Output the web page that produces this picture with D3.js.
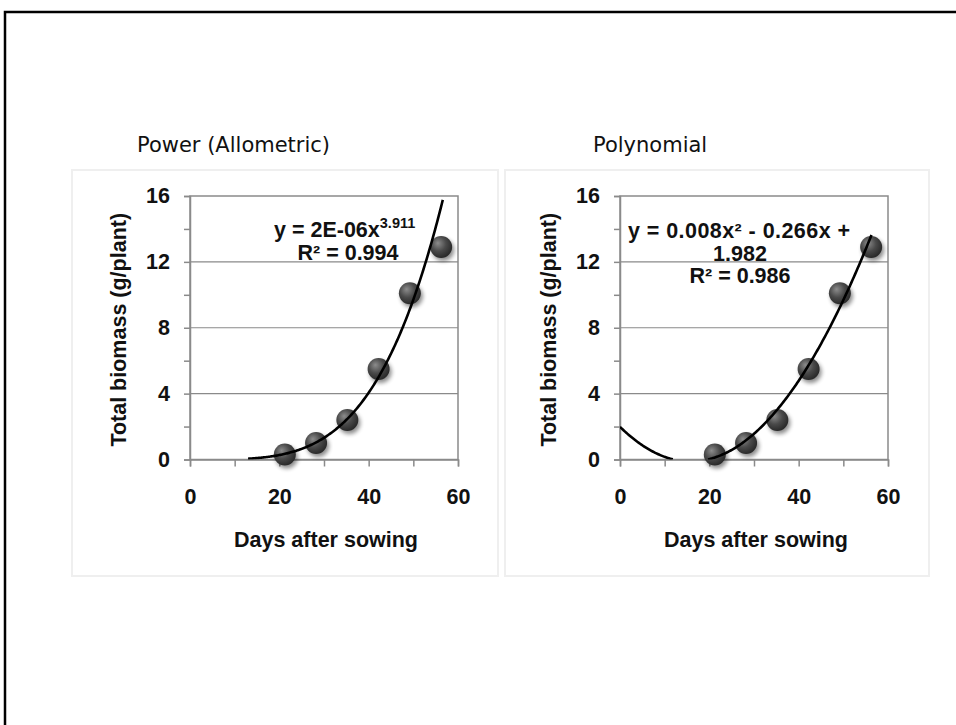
<!DOCTYPE html>
<html><head><meta charset="utf-8">
<script src="https://cdn.jsdelivr.net/npm/d3@7"></script>
<style>html,body{margin:0;padding:0;background:#fff;overflow:hidden}</style>
</head><body>
<script>
// ---- data ----
const days = [21, 28, 35, 42, 49, 56];
const biomass = [0.3, 1.0, 2.4, 5.5, 10.1, 12.9];
const xTickValues = [0, 10, 20, 30, 40, 50, 60];
const xTickLabels = [0, 20, 40, 60];
const yTickValues = [0, 2, 4, 6, 8, 10, 12, 14, 16];
const yTickLabels = [0, 4, 8, 12, 16];
const yGrid = [4, 8, 12];
const panelTitles = ["Power (Allometric)", "Polynomial"];
const xTitle = "Days after sowing";
const yTitle = "Total biomass (g/plant)";
const powerEq = ["y = 2E-06x", "3.911", "R² = 0.994"];
const polyEq = ["y = 0.008x² - 0.266x  +", "1.982", "R² = 0.986"];
// trendline parameters (displayed equations, unrounded leading coefficient)
const powerParams = [2.2e-6, 3.911];
const powerRange = [13, 56.6];
const polyParams = [0.0084, -0.266, 1.982];
const polyRange = [0, 56.3];

const W = 956, H = 725;
const svg = d3.select("body").append("svg").attr("width", W).attr("height", H);
const defs = svg.append("defs");
const grad = defs.append("radialGradient").attr("id", "ball").attr("cx", "40%").attr("cy", "38%").attr("r", "62%").attr("fx", "35%").attr("fy", "32%");
grad.append("stop").attr("offset", "0%").attr("stop-color", "#8c8c8c");
grad.append("stop").attr("offset", "55%").attr("stop-color", "#4a4a4a");
grad.append("stop").attr("offset", "100%").attr("stop-color", "#2a2a2a");
defs.append("filter").attr("id", "blur").attr("x", "-50%").attr("y", "-50%").attr("width", "200%").attr("height", "200%")
  .append("feGaussianBlur").attr("stdDeviation", 2.2);

// outer frame
svg.append("rect").attr("x", 5).attr("y", 12).attr("width", 1000).attr("height", 800)
  .attr("fill", "none").attr("stroke", "#000").attr("stroke-width", 2.5);

const yScale = d3.scaleLinear().domain([0, 16]).range([459.5, 196]);

const panels = [
  { title: panelTitles[0], titleX: 137, panel: [72, 170, 426, 406], plot: [190, 458], eq: powerEq, type: "power" },
  { title: panelTitles[1], titleX: 593, panel: [505, 170, 424, 406], plot: [620, 888], eq: polyEq, type: "poly" }
];

panels.forEach((p, i) => {
  const g = svg.append("g");
  g.append("rect").attr("x", p.panel[0]).attr("y", p.panel[1]).attr("width", p.panel[2]).attr("height", p.panel[3])
    .attr("fill", "#fff").attr("stroke", "#efefef").attr("stroke-width", 2);
  g.append("text").attr("x", p.titleX).attr("y", 152).attr("font-family", "DejaVu Sans").attr("font-size", 21)
    .attr("fill", "#111").text(p.title);

  const x = d3.scaleLinear().domain([0, 60]).range(p.plot);
  const y = yScale;
  const [x0, x1] = p.plot;

  g.selectAll(".grid").data(yGrid).join("line")
    .attr("x1", x0).attr("x2", x1).attr("y1", d => y(d)).attr("y2", d => y(d))
    .attr("stroke", "#8a8a8a").attr("stroke-width", 1.2);
  g.append("rect").attr("x", x0).attr("y", y(16)).attr("width", x1 - x0).attr("height", y(0) - y(16))
    .attr("fill", "none").attr("stroke", "#8a8a8a").attr("stroke-width", 1.5);

  const yAxis = d3.axisLeft(y).tickValues(yTickValues).tickSize(6).tickPadding(14)
    .tickFormat(d => yTickLabels.includes(d) ? d : "");
  const ya = g.append("g").attr("transform", `translate(${x0},0)`).call(yAxis);
  const xAxis = d3.axisBottom(x).tickValues(xTickValues).tickSize(7).tickPadding(22)
    .tickFormat(d => xTickLabels.includes(d) ? d : "");
  const xa = g.append("g").attr("transform", `translate(0,${y(0)})`).call(xAxis);
  [ya, xa].forEach(a => {
    a.select(".domain").attr("stroke", "#8a8a8a").attr("stroke-width", 1.5);
    a.selectAll(".tick line").attr("stroke", "#8a8a8a").attr("stroke-width", 1.5);
    a.selectAll("text").attr("font-family", "Liberation Sans, Arial").attr("font-weight", "bold")
      .attr("font-size", 21.5).attr("fill", "#111");
  });

  g.append("text").attr("x", (x0 + x1) / 2 + 2).attr("y", 547).attr("text-anchor", "middle")
    .attr("font-family", "Liberation Sans, Arial").attr("font-weight", "bold").attr("font-size", 21.5)
    .attr("fill", "#111").text(xTitle);
  g.append("text").attr("transform", `translate(${x0 - 72},${(y(0) + y(16)) / 2 + 2}) rotate(-90)`)
    .attr("text-anchor", "middle").attr("dy", "0.35em")
    .attr("font-family", "Liberation Sans, Arial").attr("font-weight", "bold").attr("font-size", 21.5)
    .attr("fill", "#111").text(yTitle);

  const cid = "clip" + i;
  defs.append("clipPath").attr("id", cid).append("rect")
    .attr("x", x0).attr("y", y(16) - 10).attr("width", x1 - x0 + 10).attr("height", y(0) - y(16) + 10);

  const pts = days.map((d, k) => [d, biomass[k]]);
  g.selectAll(".sh").data(pts).join("circle")
    .attr("cx", d => x(d[0]) + 3).attr("cy", d => y(d[1]) + 3).attr("r", 11)
    .attr("fill", "#000").attr("opacity", 0.45).attr("filter", "url(#blur)");
  g.selectAll(".pt").data(pts).join("circle")
    .attr("cx", d => x(d[0]) + 1).attr("cy", d => y(d[1])).attr("r", 11)
    .attr("fill", "url(#ball)");

  let fn, rng;
  if (p.type === "power") { fn = t => powerParams[0] * Math.pow(t, powerParams[1]); rng = powerRange; }
  else { fn = t => polyParams[0] * t * t + polyParams[1] * t + polyParams[2]; rng = polyRange; }
  const samples = d3.range(0, 201).map(k => rng[0] + (rng[1] - rng[0]) * k / 200);
  const line = d3.line().defined(t => fn(t) >= 0).x(t => x(t)).y(t => y(fn(t))).curve(d3.curveLinear);
  g.append("path").datum(samples).attr("d", line).attr("fill", "none").attr("stroke", "#000")
    .attr("stroke-width", 2.6).attr("clip-path", `url(#${cid})`);

  const eqFont = (s, fs) => s.attr("font-family", "Liberation Sans, Arial").attr("font-weight", "bold")
    .attr("font-size", fs).attr("fill", "#111");
  if (p.type === "power") {
    const t1 = g.append("text").attr("x", 274).attr("y", 237).call(eqFont, 21.5);
    t1.append("tspan").text(p.eq[0]);
    t1.append("tspan").attr("dy", -9).attr("font-size", 14.5).text(p.eq[1]);
    g.append("text").attr("x", 348).attr("y", 260).attr("text-anchor", "middle").call(eqFont, 21.5).text(p.eq[2]);
  } else {
    g.append("text").attr("x", 628).attr("y", 238).call(eqFont, 21.5).attr("textLength", 222)
      .attr("lengthAdjust", "spacing").text(p.eq[0]);
    g.append("text").attr("x", 740).attr("y", 261).attr("text-anchor", "middle").call(eqFont, 21.5).text(p.eq[1]);
    g.append("text").attr("x", 740).attr("y", 283).attr("text-anchor", "middle").call(eqFont, 21.5).text(p.eq[2]);
  }
});
</script>
</body></html>
